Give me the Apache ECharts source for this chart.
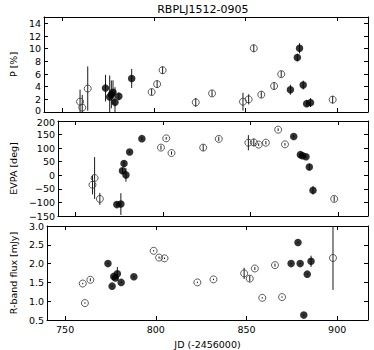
<!DOCTYPE html>
<html><head><meta charset="utf-8">
<script src="https://cdn.jsdelivr.net/npm/echarts@6/dist/echarts.min.js"></script>
<style>html,body{margin:0;padding:0;background:#fff}#c{width:374px;height:350px}</style>
</head><body><div id="c"></div>
<script>
const chartTitle = 'RBPLJ1512-0905';
const xName = 'JD (-2456000)';
const yNames = ['P [%]', 'EVPA [deg]', 'R-band flux [mJy]'];
const xTicks = [750, 800, 850, 900];
const pTicks = [0, 2, 4, 6, 8, 10, 12, 14];
const evpaTicks = [-150, -100, -50, 0, 50, 100, 150, 200];
const fluxTicks = [0.5, 1.0, 1.5, 2.0, 2.5, 3.0];

// open circles
const openJD    = [759.7, 760.9, 763.9, 798.8, 801.8, 804.8, 822.9, 831.8, 848.7, 851.8, 854.6, 858.7, 865.7, 869.6, 897.7];
const openP     = [1.63, 0.7, 3.7, 3.15, 4.4, 6.6, 1.52, 2.94, 1.63, 2.0, 10.06, 2.74, 4.1, 5.98, 1.95];
const openPErr  = [1.9, 2.0, 3.5, 0.5, 0.6, 0.6, 0.7, 0.5, 1.4, 0.8, 0.6, 0.5, 0.6, 0.5, 0.6];
const openEVPA  = [-35, -10, -87, 102, 136, 82, 102, 134, 120, 121, 113, 120, 168, 114, -87];
const openEVPAErr = [35, 77, 22, 8, 5, 6, 12, 8, 28, 14, 5, 6, 5, 5, 10];
const openFlux  = [1.47, 0.95, 1.57, 2.34, 2.16, 2.14, 1.50, 1.58, 1.74, 1.60, 1.87, 1.09, 1.96, 1.11, 2.15];
const openFluxErr = [0.02, 0.02, 0.04, 0.02, 0.03, 0.02, 0.02, 0.02, 0.15, 0.08, 0.04, 0.02, 0.04, 0.02, 0.85];

// filled circles
const fillJD    = [773.6, 775.9, 776.8, 777.7, 778.8, 780.9, 787.9, 874.6, 878.4, 879.6, 881.6, 883.5, 885.6];
const fillP     = [3.77, 2.36, 2.78, 3.1, 1.52, 2.47, 5.3, 3.52, 8.6, 10.06, 4.25, 1.32, 1.48];
const fillPErr  = [2.1, 3.4, 2.2, 1.9, 2.4, 0.6, 1.5, 0.8, 0.6, 0.8, 0.7, 0.5, 0.7];
const fillEVPA  = [-108, -106, 16.5, 43, 1.4, 86, 135, 143, 76, 72, 68, 30.5, -55.6];
const fillEVPAErr = [8, 40, 10, 10, 25, 5, 5, 5, 5, 5, 5, 12, 15];
const fillFlux  = [2.0, 1.40, 1.66, 1.62, 1.73, 1.50, 1.65, 2.0, 2.56, 2.0, 0.63, 1.72, 2.06];
const fillFluxErr = [0.02, 0.02, 0.02, 0.02, 0.18, 0.02, 0.02, 0.02, 0.02, 0.02, 0.02, 0.02, 0.15];

const FONT = 'DejaVu Sans';
const grids = [
  {left: 37, right: 6, top: 17, height: 95},
  {left: 37, right: 6, top: 121, height: 95},
  {left: 37, right: 6, top: 226, height: 95}
];
const yCfg = [
  {min: 0, max: 15, ticks: pTicks, gap: 19,
   fmt: v => v === 0 ? '{lo|0}' : '{n|' + v + '}'},
  {min: -150, max: 200, ticks: evpaTicks, gap: 20,
   fmt: v => v === 200 ? '{hi|200}' : '{n|' + String(v).replace('-', '\u2212') + '}'},
  {min: 0.5, max: 3.0, ticks: fluxTicks, gap: 22,
   fmt: v => '{n|' + v.toFixed(1) + '}'}
];
const tickRich = {
  n: {fontFamily: FONT, fontSize: 9.5, color: '#000', lineHeight: 9},
  lo: {fontFamily: FONT, fontSize: 9.5, color: '#000', lineHeight: 9, padding: [0, 0, 3, 0]},
  hi: {fontFamily: FONT, fontSize: 9.5, color: '#000', lineHeight: 9, padding: [3, 0, 0, 0]}
};
const lineStyle = {color: '#000', width: 1};
const xAxes = [], yAxes = [];
grids.forEach((g, i) => {
  const last = i === 2;
  xAxes.push({
    type: 'value', gridIndex: i, min: 740, max: 917, position: 'bottom',
    axisLine: {show: true, onZero: false, lineStyle},
    axisTick: {show: true, inside: true, length: 4, customValues: xTicks, lineStyle},
    axisLabel: {show: last, customValues: xTicks, fontFamily: FONT, fontSize: 9.5, color: '#000', margin: 4},
    splitLine: {show: false},
    name: last ? xName : '', nameLocation: 'middle', nameGap: 19,
    nameTextStyle: {fontFamily: FONT, fontSize: 9.5, color: '#000'}
  });
  xAxes.push({
    type: 'value', gridIndex: i, min: 740, max: 917, position: 'top',
    axisLine: {show: true, onZero: false, lineStyle},
    axisTick: {show: true, inside: true, length: 4, customValues: xTicks, lineStyle},
    axisLabel: {show: false}, splitLine: {show: false}
  });
  const c = yCfg[i];
  yAxes.push({
    type: 'value', gridIndex: i, min: c.min, max: c.max, position: 'left',
    axisLine: {show: true, onZero: false, lineStyle},
    axisTick: {show: true, inside: true, length: 4, customValues: c.ticks, lineStyle},
    axisLabel: {show: true, customValues: c.ticks, formatter: c.fmt, rich: tickRich,
                fontFamily: FONT, fontSize: 9.5, color: '#000', margin: 3},
    splitLine: {show: false},
    name: yNames[i], nameLocation: 'middle', nameRotate: 90, nameGap: c.gap,
    nameTextStyle: {fontFamily: FONT, fontSize: 9.5, color: '#000'}
  });
  yAxes.push({
    type: 'value', gridIndex: i, min: c.min, max: c.max, position: 'right',
    axisLine: {show: true, onZero: false, lineStyle},
    axisTick: {show: true, inside: true, length: 4, customValues: c.ticks, lineStyle},
    axisLabel: {show: false}, splitLine: {show: false}
  });
});

function errSeries(i, jd, val, err) {
  return {
    type: 'custom', xAxisIndex: 2 * i, yAxisIndex: 2 * i, clip: true, z: 1, silent: true,
    data: jd.map((x, k) => [x, val[k] - err[k], val[k] + err[k]]),
    encode: {x: 0, y: [1, 2]},
    renderItem: (params, api) => {
      const a = api.coord([api.value(0), api.value(1)]);
      const b = api.coord([api.value(0), api.value(2)]);
      return {type: 'line', shape: {x1: a[0], y1: a[1], x2: b[0], y2: b[1]},
              style: {stroke: '#1a1a1a', lineWidth: 1}};
    }
  };
}
function openSeries(i, jd, val) {
  return {type: 'scatter', xAxisIndex: 2 * i, yAxisIndex: 2 * i, z: 3, symbol: 'circle', symbolSize: 7,
    data: jd.map((x, k) => [x, val[k]]),
    itemStyle: {color: 'rgba(255,255,255,0)', borderColor: '#333', borderWidth: 1}};
}
function fillSeries(i, jd, val) {
  return {type: 'scatter', xAxisIndex: 2 * i, yAxisIndex: 2 * i, z: 4, symbol: 'circle', symbolSize: 7.5,
    data: jd.map((x, k) => [x, val[k]]),
    itemStyle: {color: '#000', borderWidth: 0}};
}

const series = [
  errSeries(0, openJD, openP, openPErr), errSeries(0, fillJD, fillP, fillPErr),
  openSeries(0, openJD, openP), fillSeries(0, fillJD, fillP),
  errSeries(1, openJD, openEVPA, openEVPAErr), errSeries(1, fillJD, fillEVPA, fillEVPAErr),
  openSeries(1, openJD, openEVPA), fillSeries(1, fillJD, fillEVPA),
  errSeries(2, openJD, openFlux, openFluxErr), errSeries(2, fillJD, fillFlux, fillFluxErr),
  openSeries(2, openJD, openFlux), fillSeries(2, fillJD, fillFlux)
];

const chart = echarts.init(document.getElementById('c'), null, {renderer: 'svg'});
chart.setOption({
  animation: false,
  backgroundColor: '#fff',
  grid: grids,
  xAxis: xAxes,
  yAxis: yAxes,
  series,
  graphic: [{type: 'text', x: 202.8, y: 9,
    style: {text: chartTitle, fontFamily: FONT, fontSize: 11, fill: '#000', textAlign: 'center', textVerticalAlign: 'middle'}}]
});
</script></body></html>
